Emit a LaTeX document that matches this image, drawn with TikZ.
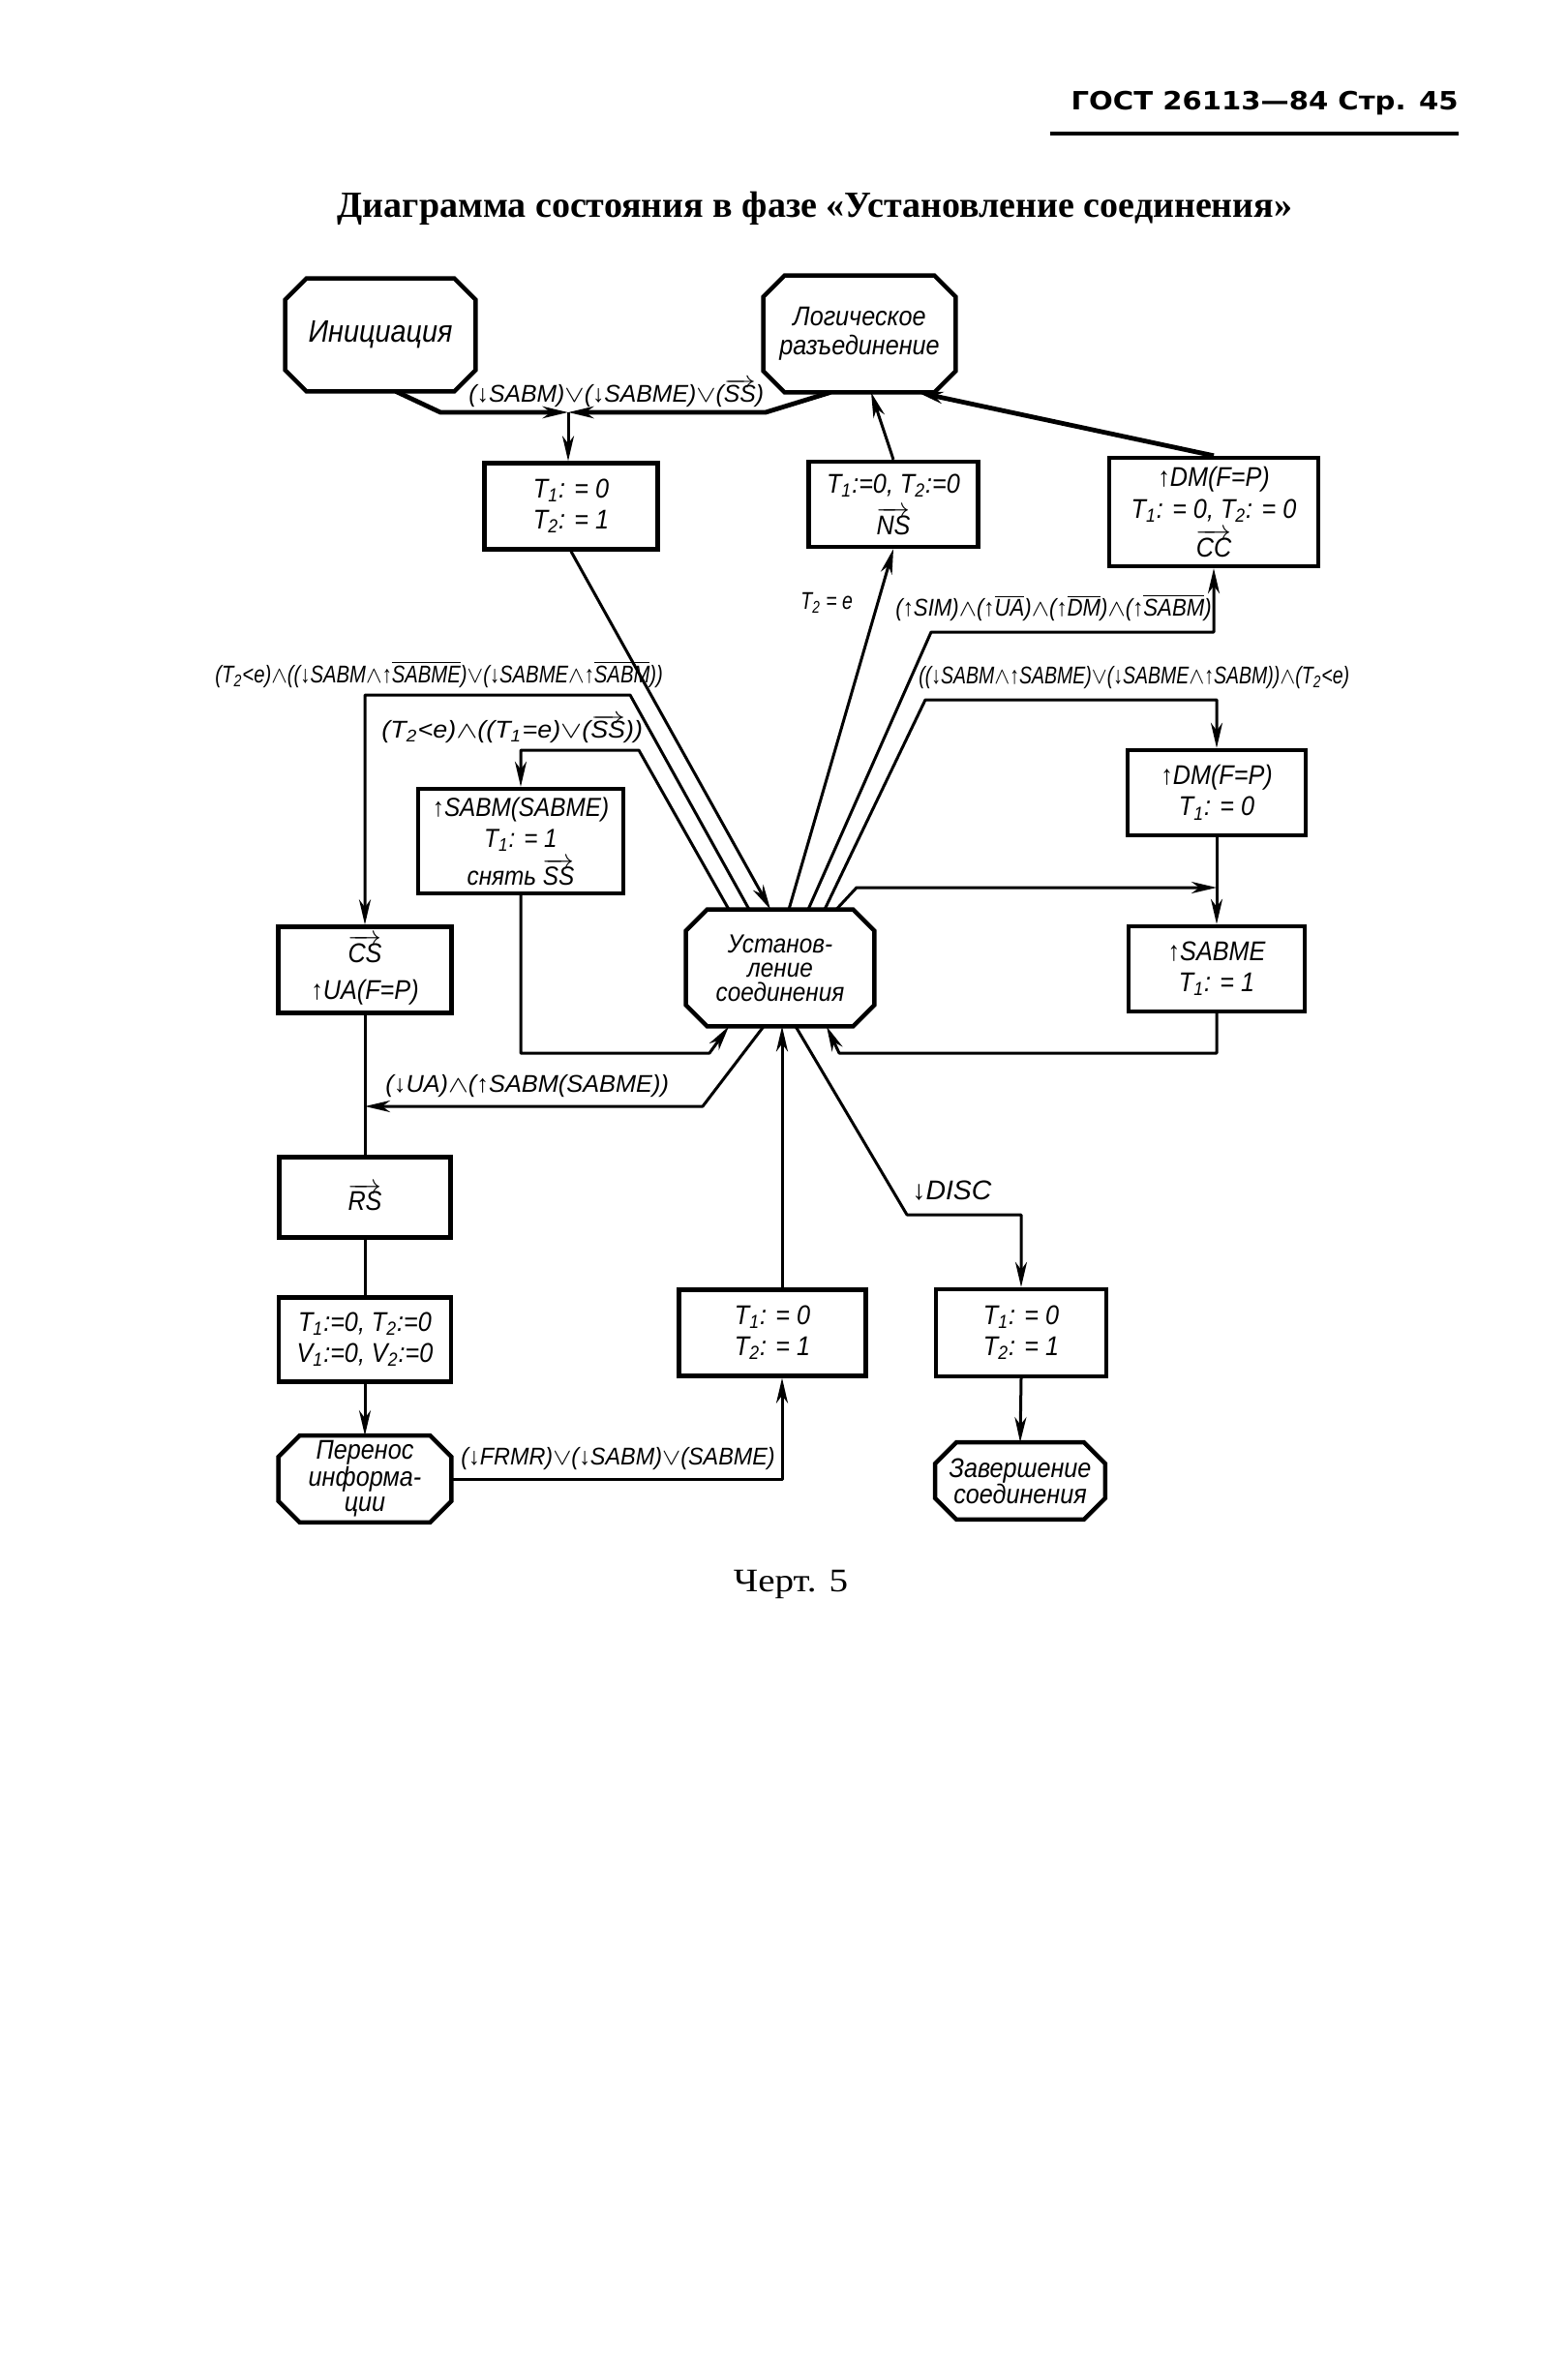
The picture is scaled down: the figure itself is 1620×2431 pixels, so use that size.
\documentclass[tikz,border=0pt]{standalone}
\usepackage{fontspec}
\setmainfont{Liberation Sans}
\newfontfamily\handfont[FakeStretch=0.9]{Liberation Sans}
\newfontfamily\condfont[FakeStretch=0.78]{Liberation Sans}
\newfontfamily\headfont{DejaVu Sans}
\newfontfamily\titlefont{Liberation Serif}
\usetikzlibrary{arrows.meta,calc}

\newcommand{\Tn}[1]{T\textsubscript{#1}}
\newcommand{\Vn}[1]{V\textsubscript{#1}}
\newcommand{\negs}[1]{\ensuremath{\overline{\mbox{#1}}}}
\newcommand{\vecs}[1]{\ensuremath{\overrightarrow{\mbox{#1}}}}
\newcommand{\ore}{\ensuremath{\vee}}
\newcommand{\ande}{\ensuremath{\wedge}}
\newcommand{\wide}[2]{\scalebox{#1}[1]{#2}}

\tikzset{
  frame/.style={line width=2.2pt},
  box/.style={draw, frame, rectangle, inner sep=0pt, align=center,
    font=\handfont\itshape\fontsize{14}{16}\selectfont},
  statebox/.style={rectangle, inner sep=0pt, align=center},
  link/.style={line width=1.5pt, line join=round,
    -{Stealth[length=13pt,width=6pt,inset=4pt]}},
  plain/.style={line width=1.5pt},
  heavy/.style={link, line width=2.4pt},
  cond/.style={anchor=west, inner sep=0pt,
    font=\condfont\itshape\fontsize{12.5}{14}\selectfont},
}

\begin{document}
\begin{tikzpicture}[x=0.5pt,y=-0.5pt]
\useasboundingbox (0,0) rectangle (1620,2431);

% page header and title
\node[anchor=east, inner sep=0pt, font=\headfont\bfseries\fontsize{13}{15}\selectfont] (head) at (1507,107) {\wide{1.12}{ГОСТ 26113—84 Стр. 45}};
\draw[line width=2pt] (1085,138) -- (1507,138);
\node[inner sep=0pt, font=\titlefont\bfseries\fontsize{19}{22}\selectfont] (title) at (842,215) {Диаграмма состояния в фазе «Установление соединения»};

% states (chamfered outlines drawn below)
\node[statebox, minimum width=98pt, minimum height=58pt, font=\handfont\itshape\fontsize{16}{18}\selectfont] (init) at (393,346) {Инициация};
\node[statebox, minimum width=99pt, minimum height=60pt, font=\handfont\itshape\fontsize{14}{15}\selectfont] (logic) at (888,345) {Логическое\\разъединение};
\node[statebox, minimum width=97pt, minimum height=60pt, font=\handfont\itshape\fontsize{13.5}{12.5}\selectfont] (setup) at (806,1000) {Установ-\\ление\\соединения};
\node[statebox, minimum width=89pt, minimum height=44.5pt, font=\handfont\itshape\fontsize{14}{13}\selectfont] (transfer) at (377,1528) {Перенос\\информа-\\ции};
\node[statebox, minimum width=87.5pt, minimum height=39.5pt, font=\handfont\itshape\fontsize{14}{13.5}\selectfont] (finish) at (1054,1530) {Завершение\\соединения};

\foreach \s in {init,logic,setup,transfer,finish}
  \draw[frame] ($(\s.north west)+(22,0)$) -- ($(\s.north east)+(-22,0)$) -- ($(\s.north east)+(0,22)$)
    -- ($(\s.south east)+(0,-22)$) -- ($(\s.south east)+(-22,0)$) -- ($(\s.south west)+(22,0)$)
    -- ($(\s.south west)+(0,-22)$) -- ($(\s.north west)+(0,22)$) -- cycle;

% action boxes
\node[box, minimum width=89.5pt, minimum height=44.5pt] (tA) at (590,523) {\Tn{1}: = 0\\\Tn{2}: = 1};
\node[box, minimum width=87.5pt, minimum height=44pt, font=\handfont\itshape\fontsize{14}{18}\selectfont] (tNS) at (923,521) {\Tn{1}:=0, \Tn{2}:=0\\[3.5pt]\vecs{NS}};
\node[box, minimum width=108pt, minimum height=56pt, font=\handfont\itshape\fontsize{14}{16.5}\selectfont] (dmCC) at (1254,529) {↑DM(F=P)\\\Tn{1}: = 0, \Tn{2}: = 0\\[3.5pt]\vecs{CC}};
\node[box, minimum width=106pt, minimum height=54pt, font=\handfont\itshape\fontsize{13.5}{16}\selectfont] (sabm) at (538,869) {↑SABM(SABME)\\\Tn{1}: = 1\\[3.5pt]снять \vecs{SS}};
\node[box, minimum width=92pt, minimum height=44pt] (dm) at (1257,819) {↑DM(F=P)\\\Tn{1}: = 0};
\node[box, minimum width=91pt, minimum height=44pt] (sabme) at (1257,1001) {↑SABME\\\Tn{1}: = 1};
\node[box, minimum width=89.5pt, minimum height=44.5pt, font=\handfont\itshape\fontsize{14}{19}\selectfont] (cs) at (377,1002) {\vecs{CS}\\↑UA(F=P)};
\node[box, minimum width=88.5pt, minimum height=41.5pt] (rs) at (377,1237) {\vecs{RS}};
\node[box, minimum width=89pt, minimum height=43.5pt] (reset) at (377,1384) {\Tn{1}:=0, \Tn{2}:=0\\\Vn{1}:=0, \Vn{2}:=0};
\node[box, minimum width=96.5pt, minimum height=44.5pt] (tJ) at (798,1377) {\Tn{1}: = 0\\\Tn{2}: = 1};
\node[box, minimum width=88pt, minimum height=45pt] (tK) at (1055,1377) {\Tn{1}: = 0\\\Tn{2}: = 1};

% entry into connection set-up
\coordinate (join) at (587,426);
\draw[heavy] ($(init.south)+(16,0)$) -- (455,426) -- (join);
\draw[heavy] ($(logic.south)+(-30,0)$) -- (791,426) -- (join);
\draw[link] (join) -- (join |- tA.north);
\node[cond] at (484,406) {\wide{1.27}{(↓SABM)\ore(↓SABME)\ore(\vecs{SS})}};
\draw[link] (tA.south) -- ($(setup.north)+(-10,0)$);

% left branches
\draw[link] ($(setup.north)+(-32,0)$) -- (651,718) -| (cs.north);
\node[cond] at (222,697) {\wide{1.04}{(\Tn{2}<e)\ande((↓SABM\ande↑\negs{SABME})\ore(↓SABME\ande↑\negs{SABM}))}};
\draw[link] ($(setup.north)+(-53,0)$) -- (660,775) -| (sabm.north);
\node[cond] at (394,753) {\wide{1.38}{(\Tn{2}<e)\ande((\Tn{1}=e)\ore(\vecs{SS}))}};
\draw[link] (sabm.south) |- (733,1088) -- ($(setup.south)+(-53,0)$);

\coordinate (ua) at (726,1143);
\draw[link] ($(setup.south)+(-17,0)$) -- (ua) -- (ua -| cs.south);
\node[cond] at (398,1122) {\wide{1.3}{(↓UA)\ande(↑SABM(SABME))}};
\draw[plain] (cs.south) -- (rs.north);
\draw[plain] (rs.south) -- (reset.north);
\draw[link] (reset.south) -- (transfer.north);

% information transfer and disconnect
\draw[link] (transfer.east) -| ($(tJ.south)+(10,0)$);
\node[cond] at (476,1507) {\wide{1.2}{(↓FRMR)\ore(↓SABM)\ore(SABME)}};
\draw[link] ($(tJ.north)+(10,0)$) -- ($(setup.south)+(2,0)$);
\coordinate (dc) at (937,1255);
\draw[link] ($(setup.south)+(16,0)$) -- (dc) -| (tK.north);
\node[cond, font=\condfont\itshape\fontsize{14}{16}\selectfont] at (942,1230) {\wide{1.3}{↓DISC}};
\draw[link] (tK.south) -- (finish.north);

% right branches
\draw[link] ($(setup.north)+(9,0)$) -- (tNS.south);
\node[cond] at (827,623) {\Tn{2} = e};
\draw[link] (tNS.north) -- ($(logic.south)+(12,0)$);
\draw[heavy] (dmCC.north) -- ($(logic.south)+(60,0)$);
\coordinate (sm) at (962,653);
\draw[link] ($(setup.north)+(29,0)$) -- (sm) -| (dmCC.south);
\node[cond] at (925,628) {\wide{1.14}{(↑SIM)\ande(↑\negs{UA})\ande(↑\negs{DM})\ande(↑\negs{SABM})}};
\coordinate (se) at (956,723);
\draw[link] ($(setup.north)+(46,0)$) -- (se) -| (dm.north);
\node[cond] at (949,700) {((↓SABM\ande↑SABME)\ore(↓SABME\ande↑SABM))\ande(\Tn{2}<e)};
\draw[link] (dm.south) -- (sabme.north);
\coordinate (sf) at (885,917);
\draw[link] ($(setup.north)+(58,0)$) -- (sf) -- (sf -| dm.south);
\coordinate (fr) at (867,1088);
\draw[link] (sabme.south) |- (fr) -- ($(setup.south)+(48,0)$);

% caption
\node[font=\titlefont\fontsize{17}{19}\selectfont] (caption) at (817,1637) {\wide{1.15}{Черт. 5}};
\end{tikzpicture}
\end{document}
